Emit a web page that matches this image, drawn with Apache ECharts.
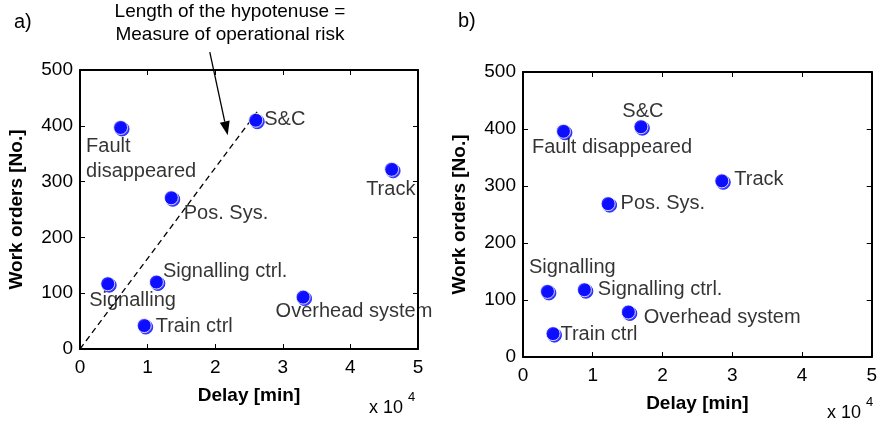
<!DOCTYPE html>
<html>
<head>
<meta charset="utf-8">
<script src="https://cdn.jsdelivr.net/npm/echarts@6/dist/echarts.min.js"></script>
<style>html,body{margin:0;padding:0;background:#fff}#c{width:880px;height:426px}</style>
</head>
<body>
<div id="c"></div>
<script>
// ---- data ----
var namesA = ['Fault\ndisappeared', 'S&C', 'Track', 'Pos. Sys.', 'Signalling', 'Signalling ctrl.', 'Train ctrl', 'Overhead system'];
var delayA = [6000, 26000, 46100, 13500, 4100, 11300, 9500, 33000];
var ordersA = [397, 410, 322, 271, 117, 120, 42, 93];

var namesB = ['Fault disappeared', 'S&C', 'Track', 'Pos. Sys.', 'Signalling', 'Signalling ctrl.', 'Train ctrl', 'Overhead system'];
var delayB = [5800, 16900, 28500, 12200, 3500, 8800, 4300, 15100];
var ordersB = [396, 404, 309, 269, 115, 118, 41, 79];

var hypotenuse = [[0, 0], [26500, 430]];
var arrow = [[19200, 532, 21850, 383]];   // from (x,y) to (x,y)

var xTicks = [0, 1, 2, 3, 4, 5];      // x 10^4
var yTicks = [0, 100, 200, 300, 400, 500];

// label placement (style): offsets relative to point centre
var offA = [[-34, 32], [9, 0], [-25, 21], [13, 16], [-18, 17], [7, -10], [12, 1], [-27, 15]];
var offB = [[-31, 17], [-18, -15], [13, -1], [13, 0], [-18, -23], [14, 0], [8, 1], [16, 6]];

var FONT = '"Liberation Sans", Arial, sans-serif';
var FS = 19;
var LFS = 20;
var MS = 14;

function pts(xs, ys, names, offs) {
  return xs.map(function (x, i) {
    return {
      value: [x, ys[i]], name: names[i],
      label: { position: [MS / 2 + offs[i][0], MS / 2 + offs[i][1]] }
    };
  });
}

function axesFor(gridIndex) {
  var xMain = {
    type: 'value', gridIndex: gridIndex, min: 0, max: 50000, interval: 10000,
    position: 'bottom',
    name: 'Delay [min]', nameLocation: 'middle', nameGap: 37,
    nameTextStyle: { fontFamily: FONT, fontSize: FS, fontWeight: 'bold', color: '#000' },
    axisLine: { show: true, onZero: false, lineStyle: { color: '#000', width: 2 } },
    axisTick: { show: true, inside: true, length: 5, lineStyle: { color: '#000', width: 1 } },
    axisLabel: { fontFamily: FONT, fontSize: FS, color: '#000', margin: 9,
      formatter: function (v) { return String(Math.round(v / 10000)); } },
    splitLine: { show: false }
  };
  var xTop = {
    type: 'value', gridIndex: gridIndex, min: 0, max: 50000, interval: 10000,
    position: 'top',
    axisLine: { show: true, onZero: false, lineStyle: { color: '#000', width: 2 } },
    axisTick: { show: true, inside: true, length: 5, lineStyle: { color: '#000', width: 1 } },
    axisLabel: { show: false }, splitLine: { show: false }
  };
  var yMain = {
    type: 'value', gridIndex: gridIndex, min: 0, max: 500, interval: 100,
    position: 'left',
    name: 'Work orders [No.]', nameLocation: 'middle', nameGap: 54, nameRotate: 90,
    nameTextStyle: { fontFamily: FONT, fontSize: FS, fontWeight: 'bold', color: '#000' },
    axisLine: { show: true, onZero: false, lineStyle: { color: '#000', width: 2 } },
    axisTick: { show: true, inside: true, length: 5, lineStyle: { color: '#000', width: 1 } },
    axisLabel: { fontFamily: FONT, fontSize: FS, color: '#000', margin: 7 },
    splitLine: { show: false }
  };
  var yRight = {
    type: 'value', gridIndex: gridIndex, min: 0, max: 500, interval: 100,
    position: 'right',
    axisLine: { show: true, onZero: false, lineStyle: { color: '#000', width: 2 } },
    axisTick: { show: true, inside: true, length: 5, lineStyle: { color: '#000', width: 1 } },
    axisLabel: { show: false }, splitLine: { show: false }
  };
  return { x: [xMain, xTop], y: [yMain, yRight] };
}

var aA = axesFor(0), aB = axesFor(1);

var markerStyle = {
  color: '#0000ff', borderColor: '#ffffff', borderWidth: 1,
  shadowColor: '#1010ff', shadowBlur: 0, shadowOffsetX: 1.5, shadowOffsetY: 1.5
};
var labelStyle = {
  show: true, align: 'left', verticalAlign: 'middle',
  formatter: '{b}', fontFamily: FONT, fontSize: LFS, color: '#000', lineHeight: 25,
  textBorderWidth: 0
};

function renderArrow(params, api) {
  var p1 = api.coord([api.value(0), api.value(1)]);
  var p2 = api.coord([api.value(2), api.value(3)]);
  var dx = p2[0] - p1[0], dy = p2[1] - p1[1];
  var len = Math.sqrt(dx * dx + dy * dy);
  var ux = dx / len, uy = dy / len;
  var hl = 14, hw = 5;
  var bx = p2[0] - ux * hl, by = p2[1] - uy * hl;
  return {
    type: 'group',
    children: [
      { type: 'line', shape: { x1: p1[0], y1: p1[1], x2: bx, y2: by },
        style: { stroke: '#000', lineWidth: 1.3 } },
      { type: 'polygon', shape: { points: [[p2[0], p2[1]], [bx - uy * hw, by + ux * hw], [bx + uy * hw, by - ux * hw]] },
        style: { fill: '#000' } }
    ]
  };
}

var option = {
  backgroundColor: '#fff',
  animation: false,
  grid: [
    { left: 80, top: 70, width: 338, height: 279, containLabel: false },
    { left: 523, top: 72, width: 352, height: 285, containLabel: false }
  ],
  xAxis: [aA.x[0], aA.x[1], aB.x[0], aB.x[1]],
  yAxis: [aA.y[0], aA.y[1], aB.y[0], aB.y[1]],
  series: [
    {
      type: 'line', xAxisIndex: 0, yAxisIndex: 0, data: hypotenuse,
      symbol: 'none', lineStyle: { color: '#000', width: 1.3, type: [6, 4] },
      z: 1, silent: true
    },
    {
      type: 'custom', xAxisIndex: 0, yAxisIndex: 0, clip: false, silent: true,
      data: arrow, encode: { x: [0, 2], y: [1, 3] },
      renderItem: renderArrow, z: 2
    },
    {
      type: 'scatter', xAxisIndex: 0, yAxisIndex: 0, symbolSize: MS, z: 3,
      data: pts(delayA, ordersA, namesA, offA),
      itemStyle: markerStyle, label: labelStyle
    },
    {
      type: 'scatter', xAxisIndex: 2, yAxisIndex: 2, symbolSize: MS, z: 3,
      data: pts(delayB, ordersB, namesB, offB),
      itemStyle: markerStyle, label: labelStyle
    }
  ],
  graphic: [
    { type: 'text', left: 14, top: 12, style: { text: 'a)', fontFamily: FONT, fontSize: 20, fill: '#000' } },
    { type: 'text', left: 458, top: 11, style: { text: 'b)', fontFamily: FONT, fontSize: 20, fill: '#000' } },
    { type: 'text', x: 230, y: 23, style: { text: 'Length of the hypotenuse =\nMeasure of operational risk',
        fontFamily: FONT, fontSize: 19, lineHeight: 23, fill: '#000', align: 'center', verticalAlign: 'middle' } },
    { type: 'text', x: 369, y: 408, style: { text: 'x 10', fontFamily: FONT, fontSize: 18, fill: '#000', verticalAlign: 'middle' } },
    { type: 'text', x: 408, y: 397, style: { text: '4', fontFamily: FONT, fontSize: 13, fill: '#000', verticalAlign: 'middle' } },
    { type: 'text', x: 827, y: 413, style: { text: 'x 10', fontFamily: FONT, fontSize: 18, fill: '#000', verticalAlign: 'middle' } },
    { type: 'text', x: 866, y: 402, style: { text: '4', fontFamily: FONT, fontSize: 13, fill: '#000', verticalAlign: 'middle' } }
  ]
};

var chart = echarts.init(document.getElementById('c'), null, { renderer: 'canvas' });
chart.setOption(option);
</script>
</body>
</html>
